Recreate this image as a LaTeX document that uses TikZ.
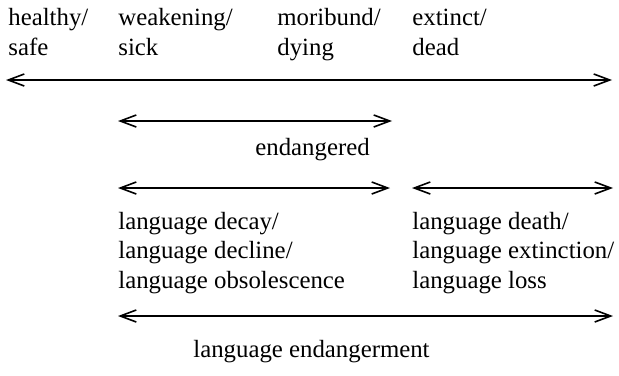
\documentclass[tikz,border=0pt]{standalone}
\usepackage{fontspec}
\setmainfont{Liberation Serif}
\usetikzlibrary{arrows.meta}
\def\drawspan{\draw[line width=0.8pt, {Straight Barb[length=8pt,width=6pt]}-{Straight Barb[length=8pt,width=6pt]}]}
\def\termnode{\node[anchor=base west, inner sep=0pt, align=left, font=\fontsize{12.4}{14.7}\selectfont]}
\begin{document}
\begin{tikzpicture}[x=0.5pt,y=-0.5pt]
\useasboundingbox (0,0) rectangle (619,375);
\termnode (healthy) at (8,55) {healthy/\\safe};
\termnode (weakening) at (118,55) {weakening/\\sick};
\termnode (moribund) at (277,55) {moribund/\\dying};
\termnode (extinct) at (412,55) {extinct/\\dead};
\coordinate (scaleL) at (6,80);
\coordinate (scaleR) at (612,80);
\drawspan (scaleL) -- (scaleR);
\coordinate (endL) at (118,121);
\coordinate (endR) at (392,121);
\drawspan (endL) -- (endR);
\termnode (endangered) at (255,155) {endangered};
\coordinate (decayL) at (118,188);
\coordinate (decayR) at (390,188);
\drawspan (decayL) -- (decayR);
\coordinate (deathL) at (412,188);
\coordinate (deathR) at (613,188);
\drawspan (deathL) -- (deathR);
\termnode (decay) at (118,288) {language decay/\\language decline/\\language obsolescence};
\termnode (death) at (412,288) {language death/\\language extinction/\\language loss};
\coordinate (allL) at (118,316);
\coordinate (allR) at (613,316);
\drawspan (allL) -- (allR);
\termnode (endangerment) at (193,357) {language endangerment};
\end{tikzpicture}
\end{document}
